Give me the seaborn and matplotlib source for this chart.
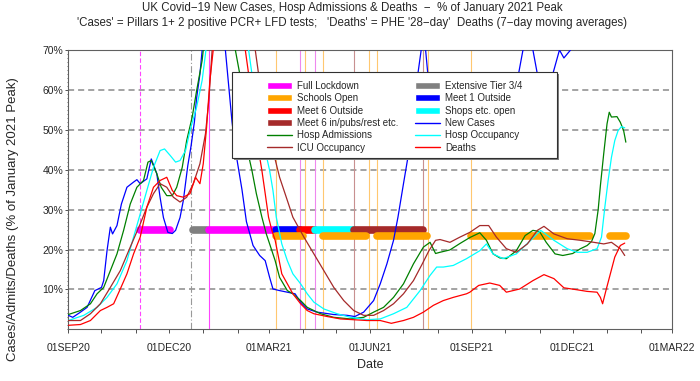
import numpy as np
import pandas as pd
import matplotlib
matplotlib.use("Agg")
import matplotlib.pyplot as plt
import matplotlib.dates as mdates
from matplotlib.patches import Patch, Rectangle
from matplotlib.lines import Line2D
import seaborn as sns

START = pd.Timestamp("2020-09-01")

# ---- series: day offsets from 01SEP20 and % of January 2021 peak ----
cases_days = [0, 4, 11, 17, 24, 30, 32, 35, 38, 40, 44, 48, 53, 59, 62, 65, 71, 75, 80, 83,
              86, 90, 94, 97, 101, 104, 108, 111, 114, 116, 119, 121, 124, 126, 130, 136, 142, 145, 148, 151,
              157, 161, 167, 173, 178, 182, 185, 191, 198, 205, 210, 216, 225, 240, 252, 259, 267, 276, 282, 288,
              294, 298, 303, 307, 316, 319, 321, 323, 325, 330, 336, 342, 350, 360, 370, 380, 390, 400, 407, 411,
              415, 420, 424, 430, 438, 444, 448, 454, 460, 470, 480, 490, 500, 504]
cases_pct = [3.5, 3.0, 4.3, 5.5, 9.7, 10.5, 12.2, 19.7, 25.6, 23.9, 26, 31.4, 35.6, 36.9, 37.5, 36.5, 37.7, 42.7, 39, 33,
             28, 24.3, 24, 24.8, 28, 32.3, 41, 46, 52, 58, 64, 70, 85, 100, 95, 80, 70, 61, 52, 45,
             35, 27, 21, 18.5, 17.2, 13, 10.1, 9.7, 9.3, 8.9, 6.8, 5.1, 4.3, 3.7, 3.5, 3.2, 4.3, 7.2, 11.4, 16.4,
             22.3, 28.1, 36.5, 43.1, 64, 70, 74, 70, 64, 52, 43, 48, 52, 55, 57, 55, 56, 60, 64, 70,
             74, 70, 64, 58, 64, 70, 68, 70, 85, 130, 200, 250, 180, 160]

admits_days = [0, 11, 20, 26, 32, 38, 44, 50, 56, 62, 68, 72, 75, 80, 84, 89, 94, 98, 103, 107,
               112, 116, 121, 122, 126, 132, 138, 145, 151, 155, 157, 161, 166, 170, 175, 179, 182, 187, 191, 198,
               203, 210, 216, 228, 240, 255, 267, 276, 285, 294, 303, 312, 321, 327, 332, 336, 345, 354, 363, 372,
               378, 384, 390, 396, 405, 413, 420, 426, 432, 440, 447, 456, 463, 469, 473, 476, 479, 481, 484, 487,
               489, 491, 496, 499, 502, 504]
admits_pct = [3.7, 4.7, 6.4, 8.9, 10.5, 14.7, 18.9, 24.8, 31.4, 35.6, 37.3, 41.9, 42.3, 39, 35.6, 33.5, 33.5, 35.6, 40.6, 47.3,
              53.2, 59.8, 67.4, 70, 85, 100, 90, 78, 70, 64, 60, 46, 39.8, 34, 28.1, 23.9, 21.4, 17.2, 13, 9.7,
              8.9, 7.2, 5.5, 3.9, 3.0, 2.6, 3.0, 4.3, 5.5, 8, 11.4, 16.4, 20.6, 21.8, 19, 19.3, 19.9, 21.5, 23, 24.2,
              22.3, 18.9, 17.9, 17.7, 19.7, 23.5, 24.8, 24.5, 21.8, 18.9, 18.5, 19, 20.2, 21, 22, 24, 30, 36, 44, 51.5,
              54.4, 53.2, 53.3, 51.9, 49.8, 46.9]

occ_days = [0, 14, 26, 35, 44, 53, 59, 65, 71, 77, 83, 87, 92, 97, 101, 106, 110, 116, 121, 124,
            128, 136, 144, 150, 156, 163, 166, 170, 174, 178, 182, 185, 188, 193, 198, 203, 210, 216, 222, 231,
            243, 255, 270, 282, 294, 306, 318, 327, 333, 339, 348, 360, 372, 378, 384, 393, 405, 418, 427, 439,
            451, 460, 469, 478, 482, 485, 488, 491, 494, 497, 500, 503]
occ_pct = [2.2, 3.5, 5.5, 8, 11.4, 17.2, 23.1, 28.9, 34.8, 40.6, 44.8, 45.2, 43.6, 41.9, 42.3, 44.8, 49.8, 55.7, 62.4, 69,
           80, 100, 92, 82, 75, 70, 64, 57, 51, 44.8, 39.8, 34.8, 28.1, 21.4, 17.2, 13.9, 11.4, 8.9, 6.8, 5.1,
           3.9, 3.0, 2.4, 2.6, 3.9, 5.5, 9.7, 13.5, 15.6, 15.6, 16, 17.7, 19.7, 21.4, 18.9, 17.7, 18.9, 22.3, 24.8, 22.3,
           20.2, 19.3, 19.3, 20.2, 23.1, 30.6, 37.3, 43.1, 47.3, 49.8, 50.8, 50.5]

icu_days = [0, 11, 20, 29, 38, 47, 56, 65, 71, 77, 83, 89, 95, 101, 107, 113, 119, 124, 127, 130,
            140, 150, 160, 169, 172, 176, 181, 185, 191, 198, 203, 213, 222, 231, 240, 249, 258, 267, 276, 285,
            294, 303, 312, 320, 326, 332, 336, 345, 354, 363, 372, 380, 387, 396, 405, 415, 424, 430, 439, 451,
            463, 475, 484, 491, 499, 503]
icu_pct = [2.2, 2.2, 3.9, 6.4, 10.5, 14.7, 20.6, 26.4, 30.6, 34, 36.5, 35.6, 33.1, 31.9, 33.1, 36.5, 41.5, 49, 57.3, 70,
           100, 90, 78, 70, 64, 58.2, 51, 44.8, 38.1, 32.3, 28.1, 23.1, 18.9, 14.7, 10.5, 7.2, 4.7, 3.5, 3.5, 4.7,
           6.4, 8.9, 12.2, 16.4, 19.7, 22.3, 22.5, 21.8, 23.1, 24.3, 26, 26, 23.1, 20.2, 19.3, 21.4, 24.8, 25.8, 23.9, 22.7,
           22.3, 21.8, 21.4, 21.8, 20.2, 18.5]

deaths_days = [0, 11, 20, 29, 35, 41, 47, 53, 59, 65, 71, 77, 83, 89, 94, 98, 104, 110, 115, 119,
               122, 125, 128, 131, 144, 152, 160, 164, 168, 172, 175, 178, 181, 184, 187, 190, 193, 198, 203, 210,
               216, 222, 234, 246, 258, 270, 282, 292, 303, 312, 321, 330, 339, 348, 360, 363, 371, 381, 390, 396,
               408, 420, 430, 439, 448, 460, 469, 478, 481, 483, 486, 490, 494, 499, 503]
deaths_pct = [1.0, 1.2, 2.2, 4.7, 5.5, 6.4, 10.1, 13.9, 18.9, 23.1, 30.6, 35.6, 37.3, 38.1, 34.8, 33.5, 33.1, 34, 38.1, 36.5,
              41.5, 50.6, 62.4, 70, 100, 85, 70, 62, 53, 44.8, 39.8, 34, 28.1, 24.8, 22.3, 18.1, 13.9, 11.4, 8.9, 6.4,
              4.7, 3.9, 3.2, 2.6, 2.4, 2.2, 2.2, 1.5, 2.2, 3.0, 4.3, 6, 7.2, 8, 8.9, 9.3, 11, 11.6, 11, 9.3,
              10.1, 12.2, 13.7, 12.7, 10.4, 9.9, 9.5, 9.3, 8, 6.4, 9.7, 13.9, 18.1, 21, 21.6]

# ---- restriction periods (bars) ----
bar_labels = ["Full Lockdown", "Extensive Tier 3/4", "Full Lockdown", "Meet 1 Outside", "Meet 6 Outside",
              "Shops etc. open", "Meet 6 in/pubs/rest etc.",
              "Schools Open", "Schools Open", "Schools Open", "Schools Open", "Schools Open"]
bar_start = ["2020-11-05", "2020-12-23", "2021-01-06", "2021-03-08", "2021-03-29", "2021-04-12", "2021-05-17",
             "2021-03-08", "2021-04-19", "2021-06-07", "2021-08-31", "2022-01-04"]
bar_end = ["2020-12-02", "2021-01-04", "2021-03-08", "2021-03-29", "2021-04-12", "2021-05-17", "2021-07-19",
           "2021-04-01", "2021-05-28", "2021-07-22", "2021-12-17", "2022-01-18"]
bar_level = [25, 25, 25, 25, 25, 25, 25, 23.5, 23.5, 23.5, 23.5, 23.5]

# ---- event marker lines ----
event_dates = ["2020-11-05", "2020-12-21", "2021-01-06", "2021-03-08", "2021-03-29", "2021-04-03",
               "2021-04-12", "2021-04-19", "2021-05-17", "2021-05-31", "2021-06-07", "2021-07-19",
               "2021-07-23", "2021-08-31"]
event_kind = ["lock_dash", "tier", "lock", "school", "step", "school", "step", "school", "pubs",
              "school", "school", "pubs", "school", "school"]

tick_dates = ["2020-09-01", "2020-12-01", "2021-03-01", "2021-06-01", "2021-09-01", "2021-12-01", "2022-03-01"]
tick_labels = ["01SEP20", "01DEC20", "01MAR21", "01JUN21", "01SEP21", "01DEC21", "01MAR22"]
y_ticks = [10, 20, 30, 40, 50, 60, 70]
y_tick_labels = ["10%", "20%", "30%", "40%", "50%", "60%", "70%"]

bar_colors = {"Full Lockdown": "#ff00ff", "Extensive Tier 3/4": "#808080", "Meet 1 Outside": "#0000ff",
              "Meet 6 Outside": "#ff0000", "Shops etc. open": "#00ffff",
              "Meet 6 in/pubs/rest etc.": "#a52a2a", "Schools Open": "#ffa500"}
event_style = {"lock_dash": ("#ff44ff", (0, (4, 2))), "tier": ("#999999", (0, (6, 2, 1, 2))),
               "lock": ("#ff44ff", "-"), "school": ("#ffc870", "-"), "step": ("#ee88ee", "-"),
               "pubs": ("#c89090", "-")}

sns.set_style("ticks")
plt.rcParams['font.family'] = ['Liberation Sans', 'DejaVu Sans']

W, H = 700, 381
L, R, T, B = 68.3, 672.3, 50.0, 329.3
fig = plt.figure(figsize=(7.0, 3.81), dpi=100)
ax = fig.add_axes([L / W, 1 - B / H, (R - L) / W, (B - T) / H])

# grid
for g in y_ticks[:-1]:
    ax.axhline(g, color="#8a8a8a", lw=1.1, ls=(0, (4, 2.6)), zorder=0.5)

# event lines
for d, k in zip(event_dates, event_kind):
    c, ls = event_style[k]
    ax.axvline(pd.Timestamp(d), color=c, lw=0.8, ls=ls, zorder=1)

# bars
for lab, s, e, lev in zip(bar_labels, bar_start, bar_end, bar_level):
    ax.plot([pd.Timestamp(s), pd.Timestamp(e)], [lev, lev], color=bar_colors[lab], lw=5.5,
            solid_capstyle="round", zorder=2)

series = [
    ("New Cases", cases_days, cases_pct, "#0000ff"),
    ("Hosp Admissions", admits_days, admits_pct, "#008000"),
    ("Hosp Occupancy", occ_days, occ_pct, "#00ffff"),
    ("ICU Occupancy", icu_days, icu_pct, "#a52a2a"),
    ("Deaths", deaths_days, deaths_pct, "#ff0000"),
]
for name, days, vals, col in series:
    df = pd.DataFrame({"date": START + pd.to_timedelta(days, unit="D"), "pct": vals})
    sns.lineplot(data=df, x="date", y="pct", color=col, lw=0.9, ax=ax, estimator=None,
                 sort=False, legend=False, zorder=3)

ax.set_xlim(START, pd.Timestamp("2022-03-01"))
ax.set_ylim(0, 70)
ax.set_xlabel("")
ax.set_ylabel("")
ax.set_xticks([pd.Timestamp(t) for t in tick_dates])
ax.set_xticklabels(tick_labels)
ax.xaxis.set_minor_locator(mdates.MonthLocator())
ax.set_yticks(y_ticks)
ax.set_yticklabels(y_tick_labels)
ax.yaxis.set_minor_locator(matplotlib.ticker.MultipleLocator(1))
ax.tick_params(axis="x", which="both", direction="out", length=2.6, width=0.7, color="#505050",
               labelsize=7.5, pad=7)
ax.tick_params(axis="y", which="major", direction="out", length=2.2, width=0.7, color="#505050",
               labelsize=7.5, pad=1.5)
ax.tick_params(axis="y", which="minor", direction="out", length=1.0, width=0.6, color="#505050")
for sp in ax.spines.values():
    sp.set_visible(True)
    sp.set_color("#606060")
    sp.set_linewidth(0.8)

# legend frame (manual, with shadow)
def ax_xy(px, py):
    return (px - L) / (R - L), (B - py) / (B - T)

lx0, ly1 = ax_xy(232, 72)
lx1, ly0 = ax_xy(557, 158)
sx0, sy1 = ax_xy(234, 74)
sx1, sy0 = ax_xy(559, 160)
ax.add_patch(Rectangle((sx0, sy0), sx1 - sx0, sy1 - sy0, transform=ax.transAxes,
                       facecolor="#808080", edgecolor="none", zorder=4.4, clip_on=False))
ax.add_patch(Rectangle((lx0, ly0), lx1 - lx0, ly1 - ly0, transform=ax.transAxes,
                       facecolor="white", edgecolor="#303030", lw=0.8, zorder=4.5, clip_on=False))

col1 = [Patch(facecolor=bar_colors["Full Lockdown"], label="Full Lockdown"),
        Patch(facecolor=bar_colors["Schools Open"], label="Schools Open"),
        Patch(facecolor=bar_colors["Meet 6 Outside"], label="Meet 6 Outside"),
        Patch(facecolor=bar_colors["Meet 6 in/pubs/rest etc."], label="Meet 6 in/pubs/rest etc."),
        Line2D([], [], color="#008000", lw=1.0, label="Hosp Admissions"),
        Line2D([], [], color="#a52a2a", lw=1.0, label="ICU Occupancy")]
col2 = [Patch(facecolor=bar_colors["Extensive Tier 3/4"], label="Extensive Tier 3/4"),
        Patch(facecolor=bar_colors["Meet 1 Outside"], label="Meet 1 Outside"),
        Patch(facecolor=bar_colors["Shops etc. open"], label="Shops etc. open"),
        Line2D([], [], color="#0000ff", lw=1.0, label="New Cases"),
        Line2D([], [], color="#00ffff", lw=1.0, label="Hosp Occupancy"),
        Line2D([], [], color="#ff0000", lw=1.0, label="Deaths")]
leg_kw = dict(loc="upper left", frameon=False, borderpad=0, borderaxespad=0, fontsize=7,
              handlelength=2.6, handleheight=0.72, handletextpad=0.5, labelspacing=0.24)
a1 = ax_xy(266.7, 81)
a2 = ax_xy(415, 81)
leg1 = ax.legend(handles=col1, bbox_to_anchor=a1, **leg_kw)
leg1.set_zorder(5)
ax.add_artist(leg1)
leg2 = ax.legend(handles=col2, bbox_to_anchor=a2, **leg_kw)
leg2.set_zorder(5)

# titles and labels
fig.text(352 / W, 1 - 8 / H, "UK Covid\u221219 New Cases, Hosp Admissions & Deaths  \u2212  % of January 2021 Peak",
         ha="center", va="center", fontsize=8.3)
fig.text(352 / W, 1 - 23 / H,
         "'Cases' = Pillars 1+ 2 positive PCR+ LFD tests;   'Deaths' = PHE '28\u2212day'  Deaths (7\u2212day moving averages)",
         ha="center", va="center", fontsize=8.3)
fig.text(370 / W, 1 - 365 / H, "Date", ha="center", va="center", fontsize=9)
fig.text(13 / W, 1 - 219 / H, "Cases/Admits/Deaths (% of January 2021 Peak)", ha="center", va="center",
         rotation=90, fontsize=9.5)

fig.savefig("out.png", dpi=100)
